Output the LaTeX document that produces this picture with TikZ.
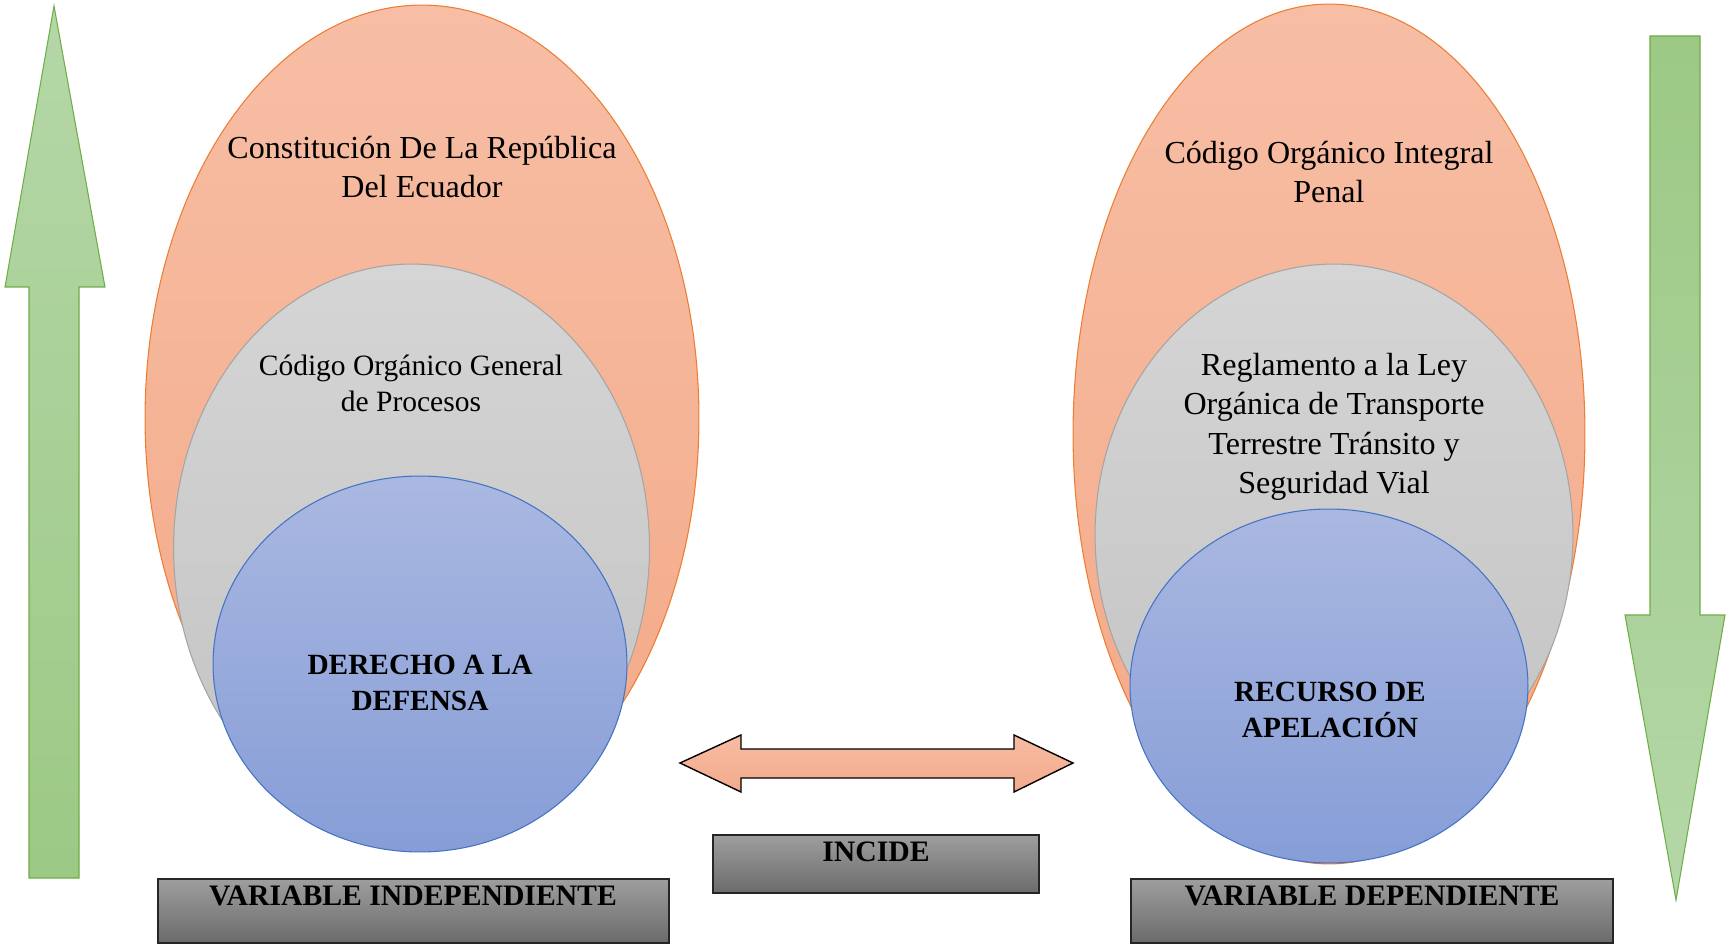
\documentclass[tikz,border=0pt]{standalone}
\usepackage{fontspec}
\setmainfont{Liberation Serif}
\usetikzlibrary{shapes.geometric}

\definecolor{orangetop}{HTML}{F7BEA5}
\definecolor{orangebot}{HTML}{F3A987}
\definecolor{orangeline}{HTML}{ED7D31}
\definecolor{graytop}{HTML}{D5D5D5}
\definecolor{graybot}{HTML}{C3C3C3}
\definecolor{grayline}{HTML}{A5A5A5}
\definecolor{bluetop}{HTML}{AAB8E1}
\definecolor{bluebot}{HTML}{869DD7}
\definecolor{blueline}{HTML}{4472C4}
\definecolor{greenlight}{HTML}{B5D7A8}
\definecolor{greendark}{HTML}{9CC985}
\definecolor{greenline}{HTML}{70AD47}
\definecolor{arrowtop}{HTML}{F6BCA3}
\definecolor{arrowbot}{HTML}{F3AA8B}
\definecolor{boxtop}{HTML}{9E9E9E}
\definecolor{boxbot}{HTML}{6B6B6B}

\begin{document}
\begin{tikzpicture}[
		x=0.02cm, y=-0.02cm,
		every node/.style={inner sep=0pt, outer sep=0pt, align=center},
		oval/.style={ellipse, line width=0.6pt},
		orangeoval/.style={oval, draw=orangeline, top color=orangetop, bottom color=orangebot},
		grayoval/.style={oval, draw=grayline, top color=graytop, bottom color=graybot},
		blueoval/.style={oval, draw=blueline, top color=bluetop, bottom color=bluebot},
		varbox/.style={draw=black!85, line width=0.9pt, top color=boxtop, bottom color=boxbot},
		greenarrow/.style={draw=greenline, line width=0.6pt},
		txt/.style={font=\fontsize{18.25}{22}\selectfont},
		widetxt/.style={font=\fontsize{18.25}{22.5}\selectfont},
		smalltxt/.style={font=\fontsize{16.8}{20.6}\selectfont},
		boldtxt/.style={font=\bfseries\fontsize{16.7}{20.5}\selectfont},
		boxtxt/.style={font=\bfseries\fontsize{16.9}{19}\selectfont}
	]
  \useasboundingbox (0,0) rectangle (1731,945);
  % arrows at the sides
  \draw [greenarrow, top color=greenlight, bottom color=greendark] (54,6) -- (105,287) -- (79,287) -- (79,878) -- (29,878) -- (29,287) -- (5,287) -- cycle;
  \draw [greenarrow, top color=greendark, bottom color=greenlight] (1650,36) -- (1700,36) -- (1700,615) -- (1725,615) -- (1676,900) -- (1625,615) -- (1650,615) -- cycle;
  % left side
  \node (const) [orangeoval, minimum width=11.08cm, minimum height=16.52cm] at (422,418) {};
  \node (cogep) [grayoval, minimum width=9.52cm, minimum height=11.36cm] at (411.5,548) {};
  \node (defensa) [blueoval, minimum width=8.28cm, minimum height=7.52cm] at (420,664) {};
  \node (const_label) [txt] at (422,167) {Constitución De La República\\Del Ecuador};
  \node (cogep_label) [smalltxt] at (411,383) {Código Orgánico General\\de Procesos};
  \node (defensa_label) [boldtxt] at (420,683) {DERECHO A LA\\DEFENSA};
  % right side
  \node (coip) [orangeoval, minimum width=10.24cm, minimum height=17.2cm] at (1329,434) {};
  \node (reglamento) [grayoval, minimum width=9.56cm, minimum height=10.84cm] at (1334,535) {};
  \node (apelacion) [blueoval, minimum width=7.96cm, minimum height=7.08cm] at (1329,686) {};
  \node (coip_label) [txt] at (1329,172) {Código Orgánico Integral\\Penal};
  \node (reglamento_label) [widetxt] at (1334,427) {Reglamento a la Ley\\Orgánica de Transporte\\Terrestre Tránsito y\\Seguridad Vial};
  \node (apelacion_label) [boldtxt] at (1330,710) {RECURSO DE\\APELACIÓN};
  % middle
  \draw [line width=0.8pt, top color=arrowtop, bottom color=arrowbot] (680,763) -- (741,735) -- (741,749) -- (1014,749) -- (1014,735) -- (1073,763) -- (1014,792) -- (1014,778) -- (741,778) -- (741,792) -- cycle;
  \node (incide) [varbox, minimum width=6.52cm, minimum height=1.16cm] at (876,864) {};
  \node (incide_label) [boxtxt] at (876,852) {INCIDE};
  \node (vi) [varbox, minimum width=10.22cm, minimum height=1.28cm] at (413.5,911) {};
  \node (vi_label) [boxtxt] at (413,896) {VARIABLE INDEPENDIENTE};
  \node (vd) [varbox, minimum width=9.64cm, minimum height=1.28cm] at (1372,911) {};
  \node (vd_label) [boxtxt] at (1372,896) {VARIABLE DEPENDIENTE};
\end{tikzpicture}
\end{document}
